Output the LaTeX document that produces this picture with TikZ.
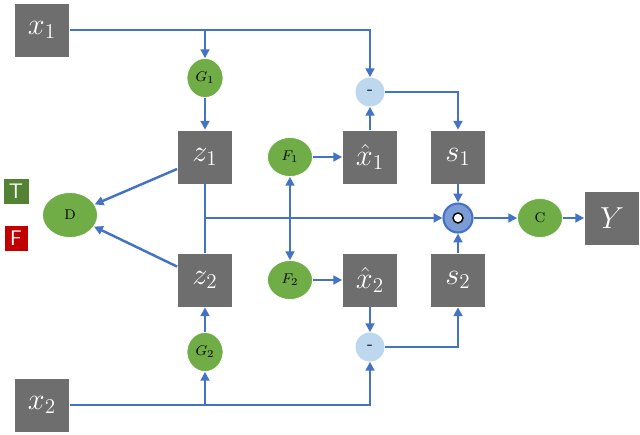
\documentclass[tikz,border=0pt]{standalone}
\usepackage{amsmath}
\usetikzlibrary{shapes.geometric,arrows.meta}
\definecolor{boxg}{HTML}{6E6E6E}
\definecolor{ell}{HTML}{70AD47}
\definecolor{arr}{HTML}{4472C4}
\definecolor{lb}{HTML}{BDD7EE}
\definecolor{tg}{HTML}{548235}
\definecolor{fr}{HTML}{C00000}
\begin{document}
\begin{tikzpicture}[x=0.02cm,y=-0.02cm,
  box/.style={draw=white,fill=boxg,minimum width=1.1cm,minimum height=1.08cm,text=white,font=\LARGE},
  el/.style={ellipse,draw=white,fill=ell,minimum width=0.72cm,minimum height=0.78cm,inner sep=0pt,font=\footnotesize},
  mn/.style={circle,fill=lb,minimum size=0.58cm,inner sep=0pt},
  ar/.style={draw=arr,line width=1.4pt,-{Triangle[length=5pt,width=5pt]}},
  ln/.style={draw=arr,line width=1.4pt}]
\useasboundingbox (0,0) rectangle (640,434);
% boxes
\node[box] (x1) at (42,30) {$x_1$};
\node[box] (x2) at (42,405) {$x_2$};
\node[box] (z1) at (205,157) {$z_1$};
\node[box] (z2) at (205,280) {$z_2$};
\node[box] (h1) at (370,157) {$\hat{x}_1$};
\node[box] (h2) at (370,280) {$\hat{x}_2$};
\node[box] (s1) at (458,157) {$s_1$};
\node[box] (s2) at (458,280) {$s_2$};
\node[box] (y) at (612,218) {$Y$};
\node[draw=white,fill=tg,text=white,minimum width=0.48cm,minimum height=0.52cm,font=\large\sffamily] (t) at (16,191) {T};
\node[draw=white,fill=fr,text=white,minimum width=0.48cm,minimum height=0.52cm,font=\large\sffamily] (f) at (16,238) {F};
% ellipses
\node[el] (g1) at (205,78) {$G_1$};
\node[el] (g2) at (205,352) {$G_2$};
\node[el,minimum width=0.9cm] (f1) at (290,157) {$F_1$};
\node[el,minimum width=0.9cm] (f2) at (290,280) {$F_2$};
\node[el,minimum width=1.1cm,minimum height=0.9cm] (d) at (70,215) {D};
\node[el,minimum width=0.9cm] (c) at (540,218) {C};
\node[mn] (m1) at (370,92) {-};
\node[mn] (m2) at (370,347) {-};
\node[circle,draw=arr,line width=1.2pt,fill=arr!70,minimum size=0.58cm,inner sep=0pt] (o) at (458,218) {};
\node[circle,draw=black,fill=white,minimum size=0.2cm,inner sep=0pt,line width=0.8pt] (oi) at (458,218) {};
\coordinate (j) at (205,218);
% connectors
\draw[ar] (x1.east) -| (m1);
\draw[ar] (g1|-x1.east) -- (g1);
\draw[ar] (g1) -- (z1);
\draw[ar] (h1) -- (m1);
\draw[ar] (m1) -| (s1);
\draw[ar] (x2.east) -| (m2);
\draw[ar] (g2|-x2.east) -- (g2);
\draw[ar] (g2) -- (z2);
\draw[ar] (h2) -- (m2);
\draw[ar] (m2) -| (s2);
\draw[ar] (s1) -- (o);
\draw[ar] (s2) -- (o);
\draw[ar] (o) -- (c);
\draw[ar] (c) -- (y);
\draw[ar] (z1) -- (d);
\draw[ar] (z2) -- (d);
\draw[ln] (z1) -- (z2);
\draw[ar] (j) -- (o);
\draw[ar] (f1) -- (h1);
\draw[ar] (f2) -- (h2);
\draw[draw=arr,line width=1.4pt,{Triangle[length=5pt,width=5pt]}-{Triangle[length=5pt,width=5pt]}] (f1) -- (f2);
\end{tikzpicture}
\end{document}
